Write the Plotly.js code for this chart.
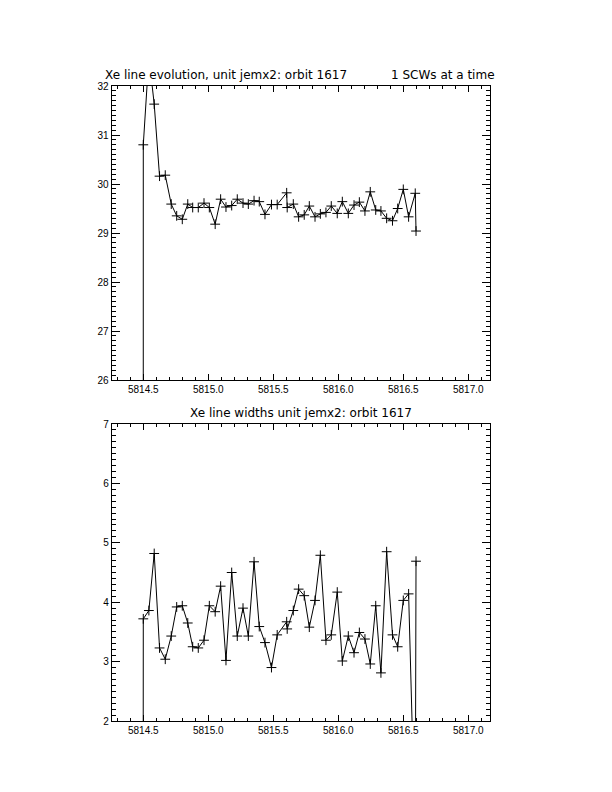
<!DOCTYPE html>
<html>
<head>
<meta charset="utf-8">
<script src="https://cdn.plot.ly/plotly-3.0.1.min.js"></script>
<style>html,body{margin:0;padding:0;background:#fff;}#chart{width:612px;height:792px;}</style>
</head>
<body>
<div id="chart"></div>
<script>
// Time of each science window (IJD)
const scwTime = [
  5814.499, 5814.500, 5814.543, 5814.584, 5814.625, 5814.669, 5814.715, 5814.757,
  5814.800, 5814.842, 5814.880, 5814.923, 5814.967, 5815.008, 5815.053, 5815.095,
  5815.136, 5815.180, 5815.223, 5815.267, 5815.308, 5815.352, 5815.392, 5815.436,
  5815.486, 5815.530, 5815.603, 5815.607, 5815.654, 5815.695, 5815.738, 5815.777,
  5815.821, 5815.862, 5815.905, 5815.946, 5815.992, 5816.031, 5816.077, 5816.121,
  5816.162, 5816.205, 5816.246, 5816.288, 5816.328, 5816.372, 5816.417, 5816.457,
  5816.500, 5816.541, 5816.592, 5816.598
];
// Xe line energy (top panel)
const lineEnergy = [
  0, 30.80, 32.6, 31.63, 30.16, 30.18, 29.59, 29.35,
  29.28, 29.59, 29.52, 29.52, 29.61, 29.52, 29.18, 29.69,
  29.53, 29.56, 29.69, 29.61, 29.59, 29.66, 29.64, 29.38,
  29.58, 29.58, 29.82, 29.52, 29.59, 29.33, 29.37, 29.55,
  29.33, 29.39, 29.42, 29.55, 29.40, 29.64, 29.40, 29.57,
  29.63, 29.45, 29.84, 29.47, 29.45, 29.30, 29.25, 29.50,
  29.89, 29.33, 29.81, 29.04
];
// Xe line width (bottom panel)
const lineWidth = [
  0, 3.72, 3.86, 4.82, 3.23, 3.04, 3.43, 3.92,
  3.94, 3.65, 3.25, 3.23, 3.36, 3.94, 3.84, 4.27,
  3.02, 4.50, 3.43, 3.90, 3.43, 4.68, 3.59, 3.32,
  2.90, 3.45, 3.67, 3.55, 3.86, 4.22, 4.11, 3.58,
  4.03, 4.79, 3.36, 3.45, 4.17, 3.01, 3.43, 3.15,
  3.49, 3.38, 2.96, 3.94, 2.81, 4.85, 3.45, 3.25,
  4.03, 4.14, 0, 4.69
];
const topTitle = "Xe line evolution, unit jemx2: orbit 1617";
const topNote = "1 SCWs at a time";
const bottomTitle = "Xe line widths unit jemx2: orbit 1617";

const W = 612, H = 792;
const xDom = [111.7 / W, 490 / W];
const topDom = [1 - 380 / H, 1 - 86 / H];
const botDom = [1 - 721 / H, 1 - 424 / H];
const font = {family: "Liberation Sans, Arial, sans-serif", size: 10, color: "#000"};

function xAxis(anchor) {
  return {
    domain: xDom, anchor: anchor, range: [5814.257, 5817.167],
    tick0: 5814.5, dtick: 0.5, tickformat: ".1f",
    ticks: "inside", ticklen: 6, tickwidth: 1, tickcolor: "#000",
    minor: {dtick: 0.1, tick0: 5814.5, ticks: "inside", ticklen: 3, tickwidth: 1, tickcolor: "#000"},
    showline: true, linecolor: "#000", linewidth: 1, mirror: "allticks",
    showgrid: false, zeroline: false, tickfont: font
  };
}
function yAxis(anchor, dom, range) {
  return {
    domain: dom, anchor: anchor, range: range,
    dtick: 1, tickformat: "d",
    ticks: "inside", ticklen: 8, tickwidth: 1, tickcolor: "#000",
    minor: {dtick: 0.1, ticks: "inside", ticklen: 4, tickwidth: 1, tickcolor: "#000"},
    showline: true, linecolor: "#000", linewidth: 1, mirror: "allticks",
    showgrid: false, zeroline: false, tickfont: font
  };
}

const mk = {symbol: "cross-thin", size: 7, line: {color: "#000", width: 1}, color: "#000"};
const data = [
  {x: scwTime, y: lineEnergy, xaxis: "x", yaxis: "y", mode: "lines+markers",
   line: {color: "#000", width: 1}, marker: mk, cliponaxis: true},
  {x: scwTime, y: lineWidth, xaxis: "x2", yaxis: "y2", mode: "lines+markers",
   line: {color: "#000", width: 1}, marker: mk, cliponaxis: true}
];

const titleFont = {family: "DejaVu Sans, sans-serif", size: 12, color: "#000"};
const layout = {
  width: W, height: H, margin: {l: 0, r: 0, t: 0, b: 0},
  paper_bgcolor: "#fff", plot_bgcolor: "#fff", showlegend: false,
  xaxis: xAxis("y"), yaxis: yAxis("x", topDom, [26, 32]),
  xaxis2: xAxis("y2"), yaxis2: yAxis("x2", botDom, [2, 7]),
  annotations: [
    {text: topTitle, xref: "paper", yref: "paper", x: 103 / W, y: 1 - 75 / H,
     xanchor: "left", yanchor: "middle", showarrow: false, font: titleFont},
    {text: topNote, xref: "paper", yref: "paper", x: 497 / W, y: 1 - 75 / H,
     xanchor: "right", yanchor: "middle", showarrow: false, font: titleFont},
    {text: bottomTitle, xref: "paper", yref: "paper", x: 300.8 / W, y: 1 - 413 / H,
     xanchor: "center", yanchor: "middle", showarrow: false, font: titleFont}
  ]
};
// paper coords span whole figure since margins are zero
Plotly.newPlot("chart", data, layout, {displayModeBar: false, staticPlot: true});
</script>
</body>
</html>
